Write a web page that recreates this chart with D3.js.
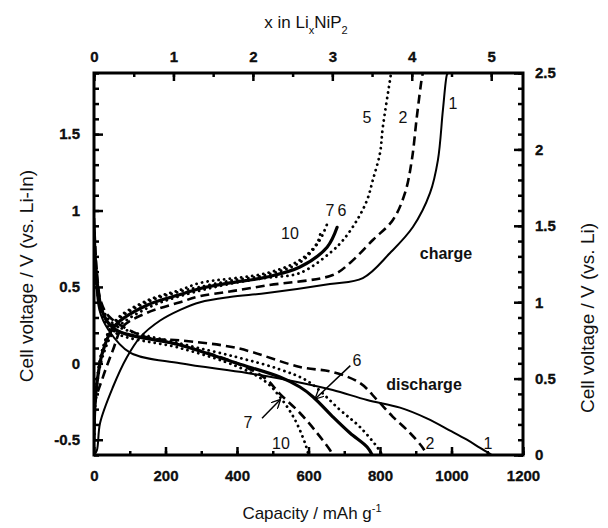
<!DOCTYPE html>
<html>
<head>
<meta charset="utf-8">
<script src="https://cdn.jsdelivr.net/npm/d3@7"></script>
<style>
  body { margin: 0; background: #fff; }
  svg text { font-family: "Liberation Sans", Arial, sans-serif; fill: #111; }
</style>
</head>
<body>
<svg id="chart" width="608" height="528"></svg>
<script>
// tick values
var capTicks = [0, 200, 400, 600, 800, 1000, 1200];
var xTicks = [0, 1, 2, 3, 4, 5];
var leftTicks = [-0.5, 0, 0.5, 1, 1.5];
var rightTicks = [0, 0.5, 1, 1.5, 2, 2.5];

// charge curves [capacity, V vs Li-In]
var charge1 = [[0,-0.6],[8,-0.57],[17,-0.39],[53,-0.155],[92,0.04],[129,0.17],[185,0.28],[241,0.35],[297,0.40],[380,0.434],[484,0.46],[660,0.519],[752,0.558],[828,0.722],[892,0.892],[940,1.115],[962,1.33],[976,1.658],[987,1.887],[990,1.9]];
var charge2 = [[0,-0.55],[3,-0.26],[25,-0.09],[53,0.087],[81,0.24],[148,0.33],[241,0.40],[297,0.44],[380,0.47],[484,0.51],[668,0.578],[716,0.657],[780,0.807],[836,0.938],[870,1.115],[889,1.33],[903,1.612],[917,1.867],[920,1.9]];
var charge5 = [[0,-0.5],[5,-0.2],[25,0.05],[60,0.22],[148,0.36],[241,0.44],[380,0.52],[484,0.56],[576,0.591],[660,0.722],[697,0.807],[736,0.938],[764,1.069],[780,1.2],[800,1.376],[808,1.547],[828,1.854],[831,1.9]];
var charge6 = [[0,-0.5],[5,-0.2],[25,0.08],[60,0.25],[148,0.38],[241,0.45],[297,0.49],[380,0.526],[484,0.565],[576,0.63],[652,0.76],[680,0.89]];
var charge7 = [[0,-0.5],[5,-0.2],[25,0.1],[60,0.27],[148,0.40],[241,0.47],[297,0.50],[380,0.54],[484,0.58],[576,0.66],[630,0.8],[655,0.93]];
var charge10 = [[0,-0.5],[5,-0.2],[25,0.1],[60,0.28],[148,0.41],[241,0.48],[297,0.526],[484,0.591],[576,0.676],[624,0.787],[635,0.87]];

// discharge curves
var discharge1 = [[0,0.95],[5,0.6],[15,0.35],[40,0.22],[101,0.07],[241,0.0],[428,-0.063],[568,-0.122],[668,-0.175],[764,-0.24],[856,-0.29],[931,-0.36],[996,-0.44],[1043,-0.5],[1080,-0.554],[1113,-0.6]];
var discharge2 = [[0,0.95],[8,0.6],[20,0.4],[45,0.3],[148,0.17],[241,0.15],[400,0.1],[576,-0.024],[668,-0.057],[744,-0.129],[792,-0.24],[836,-0.35],[884,-0.456],[920,-0.554],[931,-0.6]];
var discharge5 = [[0,0.9],[8,0.55],[25,0.35],[60,0.25],[241,0.13],[400,0.04],[520,-0.04],[600,-0.12],[688,-0.305],[744,-0.417],[792,-0.548],[806,-0.6]];
var discharge6 = [[0,0.9],[8,0.55],[25,0.33],[60,0.22],[241,0.12],[400,0.0],[520,-0.09],[576,-0.155],[613,-0.22],[668,-0.35],[716,-0.456],[764,-0.548],[778,-0.6]];
var discharge7 = [[0,0.85],[8,0.5],[25,0.32],[60,0.22],[241,0.12],[400,0.0],[480,-0.1],[520,-0.2],[576,-0.325],[624,-0.456],[660,-0.567],[668,-0.6]];
var discharge10 = [[0,0.85],[8,0.5],[25,0.3],[60,0.2],[241,0.1],[400,-0.02],[480,-0.12],[520,-0.22],[560,-0.36],[590,-0.52],[600,-0.6]];

var svg = d3.select("#chart");

var x = d3.scaleLinear().domain([0, 1200]).range([94, 523]);
var xTop = d3.scaleLinear().domain([0, 5.4]).range([94, 523]);
var y = d3.scaleLinear().domain([-0.6, 1.9]).range([455, 73]);
var yR = d3.scaleLinear().domain([0, 2.5]).range([455, 73]);

var line = d3.line()
  .x(function(d){ return x(d[0]); })
  .y(function(d){ return y(d[1]); })
  .curve(d3.curveCatmullRom.alpha(0.5));

var styles = {
  solid:  { w: 2, dash: null, cap: "butt" },
  thick:  { w: 3.2, dash: null, cap: "round" },
  dashed: { w: 2.6, dash: "9,5", cap: "butt" },
  dotted: { w: 2.8, dash: "0.1,5.5", cap: "round" }
};

var curves = [
  [charge1, "solid"], [charge2, "dashed"], [charge5, "dotted"],
  [charge6, "thick"], [charge7, "dotted"], [charge10, "dotted"],
  [discharge1, "solid"], [discharge2, "dashed"], [discharge5, "dotted"],
  [discharge6, "thick"], [discharge7, "dashed"], [discharge10, "dotted"]
];

svg.append("clipPath").attr("id", "plotclip")
  .append("rect").attr("x", 94).attr("y", 73).attr("width", 429).attr("height", 382);

var plot = svg.append("g").attr("clip-path", "url(#plotclip)");
curves.forEach(function(c){
  var s = styles[c[1]];
  plot.append("path")
    .attr("d", line(c[0]))
    .attr("fill", "none")
    .attr("stroke", "#000")
    .attr("stroke-width", s.w)
    .attr("stroke-linecap", s.cap)
    .attr("stroke-linejoin", "round")
    .attr("stroke-dasharray", s.dash);
});

// axes: minor ticks first, then majors with labels
function minor(step, lo, hi){
  var out = [];
  for (var v = lo; v <= hi + 1e-9; v += step) out.push(+v.toFixed(3));
  return out;
}

function drawAxis(axis, tx, ty){
  var g = svg.append("g").attr("transform", "translate(" + tx + "," + ty + ")").call(axis);
  g.select(".domain").remove();
  g.selectAll(".tick line").attr("stroke", "#000").attr("stroke-width", 2.5);
  g.selectAll(".tick text")
    .attr("font-size", 15)
    .attr("font-weight", "bold")
    .attr("stroke", "#000")
    .attr("stroke-width", 0.3);
  return g;
}

var fmt = function(d){ return String(d); };

drawAxis(d3.axisBottom(x).tickValues(minor(100, 0, 1200)).tickSize(-4).tickFormat(""), 0, 455);
drawAxis(d3.axisBottom(x).tickValues(capTicks).tickSize(-8).tickPadding(15).tickFormat(fmt), 0, 455);

drawAxis(d3.axisTop(xTop).tickValues(minor(0.5, 0, 5.4)).tickSize(-4).tickFormat(""), 0, 73);
drawAxis(d3.axisTop(xTop).tickValues(xTicks).tickSize(-8).tickPadding(11).tickFormat(fmt), 0, 73);

drawAxis(d3.axisLeft(y).tickValues(minor(0.1, -0.6, 1.9)).tickSize(-5).tickFormat(""), 94, 0);
drawAxis(d3.axisLeft(y).tickValues(leftTicks).tickSize(-9).tickPadding(14).tickFormat(fmt), 94, 0);

drawAxis(d3.axisRight(yR).tickValues(minor(0.1, 0, 2.5)).tickSize(-5).tickFormat(""), 523, 0);
drawAxis(d3.axisRight(yR).tickValues(rightTicks).tickSize(-9).tickPadding(12).tickFormat(fmt), 523, 0);

svg.append("rect").attr("x", 94).attr("y", 73).attr("width", 429).attr("height", 382)
  .attr("fill", "none").attr("stroke", "#000").attr("stroke-width", 3);

// titles
var tb = svg.append("text").attr("x", 312).attr("y", 519).attr("text-anchor", "middle").attr("font-size", 17);
tb.append("tspan").text("Capacity / mAh g");
tb.append("tspan").attr("dy", -7).attr("font-size", 11).text("-1");

var tt = svg.append("text").attr("x", 306).attr("y", 28).attr("text-anchor", "middle").attr("font-size", 17);
tt.append("tspan").text("x in Li");
tt.append("tspan").attr("dy", 6).attr("font-size", 11).text("x");
tt.append("tspan").attr("dy", -6).text("NiP");
tt.append("tspan").attr("dy", 6).attr("font-size", 11).text("2");

svg.append("text").attr("transform", "translate(33,276) rotate(-90)")
  .attr("text-anchor", "middle").attr("font-size", 19).text("Cell voltage / V (vs. Li-In)");
svg.append("text").attr("transform", "translate(594,318) rotate(-90)")
  .attr("text-anchor", "middle").attr("font-size", 19).text("Cell voltage / V (vs. Li)");

// annotations
function label(t, cx, cy, bold){
  svg.append("text").attr("x", cx).attr("y", cy).attr("text-anchor", "middle")
    .attr("font-size", 16).attr("font-weight", bold ? "bold" : "normal").text(t);
}
label("charge", 446, 259, true);
label("discharge", 424, 390, true);
label("1", 453, 109); label("2", 403, 123); label("5", 367, 123);
label("6", 342, 216); label("7", 330, 216); label("10", 290, 239);
label("1", 488, 449); label("2", 430, 449);
label("6", 357, 366); label("7", 248, 428); label("10", 281, 449);

var defs = svg.append("defs");
defs.append("marker").attr("id", "arrow").attr("viewBox", "0 0 10 10").attr("refX", 9).attr("refY", 5)
  .attr("markerWidth", 6).attr("markerHeight", 6).attr("orient", "auto")
  .append("path").attr("d", "M0,0 L10,5 L0,10").attr("fill", "none").attr("stroke", "#000").attr("stroke-width", 1.5);
svg.append("line").attr("x1", x(717)).attr("y1", y(-0.015)).attr("x2", x(620)).attr("y2", y(-0.23))
  .attr("stroke", "#000").attr("stroke-width", 1.5).attr("marker-end", "url(#arrow)");
svg.append("line").attr("x1", x(470)).attr("y1", y(-0.36)).attr("x2", x(520)).attr("y2", y(-0.24))
  .attr("stroke", "#000").attr("stroke-width", 1.5).attr("marker-end", "url(#arrow)");
</script>
</body>
</html>
